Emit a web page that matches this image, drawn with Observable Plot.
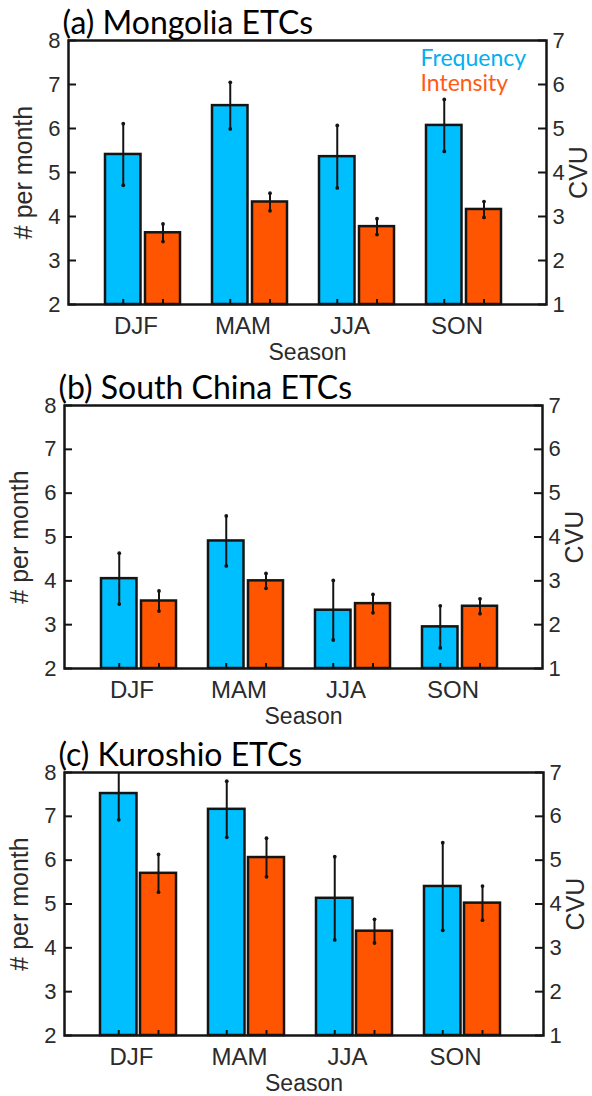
<!DOCTYPE html>
<html><head><meta charset="utf-8">
<script src="https://cdn.jsdelivr.net/npm/d3@7"></script>
<script src="https://cdn.jsdelivr.net/npm/@observablehq/plot@0.6"></script>
<style>
body{margin:0;background:#fff;}
#chart{position:relative;width:592px;height:1096px;overflow:hidden;background:#fff;}
#chart svg{position:absolute;left:0;}
</style></head><body><div id="chart"></div>
<script>
// ---- data ----
const seasons = ["DJF","MAM","JJA","SON"];
const seriesNames = ["Frequency","Intensity"];
const titles = ["(a) Mongolia ETCs","(b) South China ETCs","(c) Kuroshio ETCs"];
const leftTicks = [2,3,4,5,6,7,8];
const rightTicks = [1,2,3,4,5,6,7];
const leftLabel = "# per month";
const rightLabel = "CVU";
const xLabel = "Season";

// (a) Mongolia
const freqA    = [5.41, 6.52, 5.36, 6.07];
const freqErrA = [0.70, 0.53, 0.71, 0.59];
const intA     = [2.63, 3.33, 2.77, 3.16];
const intErrA  = [0.20, 0.20, 0.18, 0.18];
// (b) South China
const freqB    = [4.05, 4.91, 3.33, 2.95];
const freqErrB = [0.58, 0.57, 0.68, 0.48];
const intB     = [2.54, 3.00, 2.48, 2.42];
const intErrB  = [0.23, 0.17, 0.21, 0.17];
// (c) Kuroshio
const freqC    = [7.52, 7.16, 5.13, 5.40];
const freqErrC = [0.60, 0.64, 0.95, 1.00];
const intC     = [4.70, 5.06, 3.38, 4.02];
const intErrC  = [0.43, 0.44, 0.27, 0.39];

// ---- styles ----
const CYAN = "#00bfff", ORANGE = "#ff5500", EDGE = "#141414";
const LEG_CYAN = "#00b0f0", LEG_ORANGE = "#ff5a14";
const AXIS_FONT = "Liberation Sans";
const TITLE_FONT = "Lato";
const TXT = "#2b2b2b";

function panel({top, mL, mR, plotH, title, freq, freqErr, inten, intenErr, legend}) {
  const W = 592, mT = 40, mB = 60;
  const frameW = W - mL - mR;
  const yMin = leftTicks[0], yMax = leftTicks[leftTicks.length - 1];
  const rMin = rightTicks[0], rMax = rightTicks[rightTicks.length - 1];
  const k = (yMax - yMin) / (rMax - rMin);
  const toLeft = v => yMin + (v - rMin) * k;
  const fromLeft = v => String(Math.round((rMin + (v - yMin) / k) * 100) / 100);
  const data = seasons.map((s, j) => ({
    season: s, f: freq[j], fe: freqErr[j],
    i: toLeft(inten[j]), ie: intenErr[j] * k
  }));
  const dF = -19.75, dI = 20;
  const marks = [
    Plot.barY(data, {x: "season", y1: yMin, y2: "f", fill: CYAN, stroke: EDGE, strokeWidth: 2.5, insetRight: 39.5}),
    Plot.barY(data, {x: "season", y1: yMin, y2: "i", fill: ORANGE, stroke: EDGE, strokeWidth: 2.5, insetLeft: 40}),
    // small ticks at bar bottoms
    Plot.ruleX(data, {x: "season", y1: yMin, y2: yMin, insetTop: -5, dx: dF, stroke: EDGE, strokeWidth: 2}),
    Plot.ruleX(data, {x: "season", y1: yMin, y2: yMin, insetTop: -5, dx: dI, stroke: EDGE, strokeWidth: 2}),
    // error bars
    Plot.ruleX(data, {x: "season", y1: d => d.f - d.fe, y2: d => d.f + d.fe, dx: dF, stroke: EDGE, strokeWidth: 2, clip: true}),
    Plot.dot(data, {x: "season", y: d => d.f - d.fe, dx: dF, r: 1.9, fill: EDGE, clip: true}),
    Plot.dot(data, {x: "season", y: d => d.f + d.fe, dx: dF, r: 1.9, fill: EDGE, clip: true}),
    Plot.ruleX(data, {x: "season", y1: d => d.i - d.ie, y2: d => d.i + d.ie, dx: dI, stroke: EDGE, strokeWidth: 2, clip: true}),
    Plot.dot(data, {x: "season", y: d => d.i - d.ie, dx: dI, r: 1.9, fill: EDGE, clip: true}),
    Plot.dot(data, {x: "season", y: d => d.i + d.ie, dx: dI, r: 1.9, fill: EDGE, clip: true}),
    // inward y ticks
    Plot.ruleY(leftTicks, {y: d => d, insetRight: frameW - 8, stroke: EDGE, strokeWidth: 2}),
    Plot.ruleY(rightTicks.map(toLeft), {y: d => d, insetLeft: frameW - 8, stroke: EDGE, strokeWidth: 2}),
    Plot.frame({stroke: EDGE, strokeWidth: 2.5}),
    // axes
    Plot.axisY({anchor: "left", ticks: leftTicks, tickFormat: d => String(d), tickSize: 0, tickPadding: 8, fontSize: 22, fontFamily: AXIS_FONT, label: null, fill: TXT}),
    Plot.axisY({anchor: "right", ticks: rightTicks.map(toLeft), tickFormat: fromLeft, tickSize: 0, tickPadding: 6, fontSize: 22, fontFamily: AXIS_FONT, label: null, fill: TXT}),
    Plot.axisX({tickSize: 0, tickPadding: 12, fontSize: 24, fontFamily: AXIS_FONT, dx: -7, label: null, fill: TXT}),
    Plot.text([leftLabel], {text: d => d, frameAnchor: "left", dx: -45, rotate: -90, textAnchor: "middle", lineAnchor: "middle", fontSize: 25, fontFamily: AXIS_FONT, fill: TXT}),
    Plot.text([rightLabel], {text: d => d, frameAnchor: "right", dx: 32, rotate: -90, textAnchor: "middle", lineAnchor: "middle", fontSize: 25, fontFamily: AXIS_FONT, fill: TXT}),
    Plot.text([xLabel], {text: d => d, frameAnchor: "bottom", dy: 55, textAnchor: "middle", lineAnchor: "bottom", fontSize: 23, fontFamily: AXIS_FONT, fill: TXT}),
    Plot.text([title], {text: d => d, frameAnchor: "top-left", dx: -6, dy: -7, textAnchor: "start", lineAnchor: "bottom", fontSize: 32, fontFamily: TITLE_FONT, fill: "#000"})
  ];
  if (legend) {
    marks.push(Plot.text([seriesNames[0]], {text: d => d, frameAnchor: "top-left", dx: 352, dy: 25, textAnchor: "start", lineAnchor: "bottom", fontSize: 23, fontFamily: TITLE_FONT, fill: LEG_CYAN}));
    marks.push(Plot.text([seriesNames[1]], {text: d => d, frameAnchor: "top-left", dx: 352, dy: 50, textAnchor: "start", lineAnchor: "bottom", fontSize: 23, fontFamily: TITLE_FONT, fill: LEG_ORANGE}));
  }
  const svg = Plot.plot({
    width: W, height: mT + plotH + mB,
    marginLeft: mL, marginRight: mR, marginTop: mT, marginBottom: mB,
    style: {fontFamily: AXIS_FONT, background: "transparent", overflow: "visible"},
    x: {type: "band", domain: seasons, paddingInner: 0.3, paddingOuter: 0.367, align: 0.455},
    y: {domain: [yMin, yMax]},
    marks
  });
  svg.style.top = top + "px";
  document.getElementById("chart").appendChild(svg);
}

panel({top: 0,   mL: 68, mR: 46, plotH: 264, title: titles[0], freq: freqA, freqErr: freqErrA, inten: intA, intenErr: intErrA, legend: true});
panel({top: 365, mL: 64, mR: 50, plotH: 263, title: titles[1], freq: freqB, freqErr: freqErrB, inten: intB, intenErr: intErrB, legend: false});
panel({top: 732, mL: 64, mR: 49, plotH: 263, title: titles[2], freq: freqC, freqErr: freqErrC, inten: intC, intenErr: intErrC, legend: false});
</script></body></html>
